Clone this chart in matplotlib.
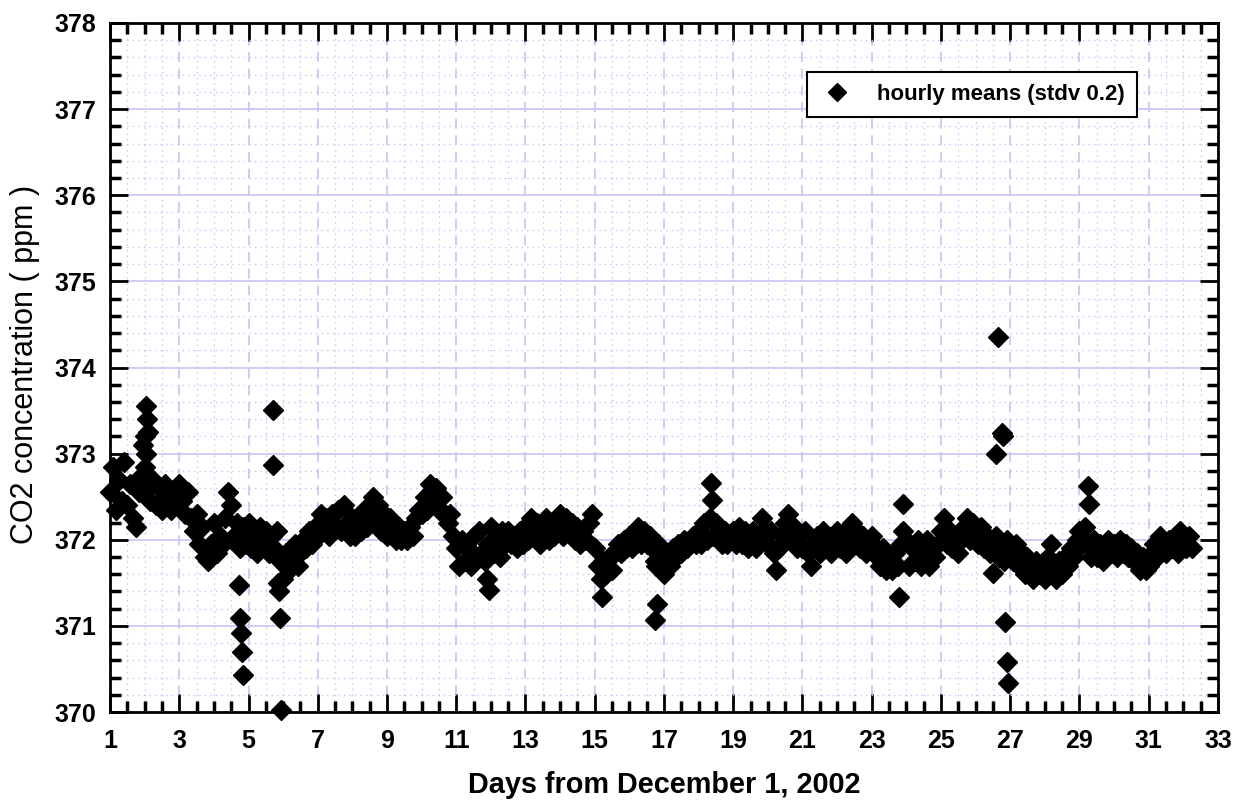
import numpy as np
import matplotlib
matplotlib.use("Agg")
import matplotlib.pyplot as plt
from matplotlib.ticker import MultipleLocator, FixedLocator

plt.rcParams['font.family'] = ['Liberation Sans', 'DejaVu Sans']

# hourly means, one value every 2 hours (12 per day) from day 1
co2_band = [
    # day 1
    372.55, 372.85, 372.35, 372.70, 372.45, 372.90, 372.40, 372.65, 372.25, 372.15, 372.55, 372.75,
    # day 2
    372.85, 372.60, 372.45, 372.70, 372.40, 372.60, 372.35, 372.65, 372.50, 372.35, 372.55, 372.40,
    # day 3
    372.65, 372.45, 372.30, 372.55, 372.25, 372.10, 372.30, 371.95, 372.15, 371.80, 371.75, 371.95,
    # day 4
    372.20, 371.85, 372.05, 371.95, 372.25, 372.55, 372.40, 372.05, 372.20, 371.90, 372.15, 371.95,
    # day 5
    372.20, 371.90, 372.05, 371.85, 372.15, 371.95, 372.10, 371.85, 372.05, 371.90, 372.10, 371.75,
    # day 6
    371.55, 371.85, 371.65, 371.80, 371.95, 371.70, 371.85, 372.00, 371.90, 372.10, 371.95, 372.15,
    # day 7
    372.05, 372.30, 372.10, 372.25, 372.05, 372.30, 372.15, 372.35, 372.10, 372.40, 372.20, 372.05,
    # day 8
    372.25, 372.05, 372.20, 372.10, 372.35, 372.15, 372.40, 372.50, 372.25, 372.40, 372.10, 372.30,
    # day 9
    372.05, 372.25, 372.15, 372.00, 372.15, 372.00, 372.10, 372.00, 372.15, 372.05, 372.25, 372.35,
    # day 10
    372.30, 372.50, 372.35, 372.65, 372.45, 372.60, 372.35, 372.50, 372.30, 372.20, 372.30, 372.05,
    # day 11
    371.90, 371.70, 372.00, 371.75, 371.90, 371.70, 372.05, 371.80, 372.10, 371.85, 371.75, 371.95,
    # day 12
    372.15, 371.85, 372.05, 371.80, 372.10, 371.95, 372.10, 371.95, 372.05, 371.90, 372.10, 371.95,
    # day 13
    372.15, 372.00, 372.25, 372.05, 372.20, 371.95, 372.15, 372.25, 372.00, 372.15, 372.05, 372.20,
    # day 14
    372.30, 372.05, 372.25, 372.10, 372.20, 372.00, 372.15, 371.95, 372.10, 372.00, 372.20, 372.30,
    # day 15
    371.90, 371.70, 371.55, 371.75, 371.60, 371.80, 371.65, 371.85, 371.95, 371.85, 372.00, 371.90,
    # day 16
    372.05, 371.90, 372.10, 372.15, 371.95, 372.10, 371.95, 372.05, 371.90, 371.75, 371.95, 371.65,
    # day 17
    371.60, 371.85, 371.70, 371.90, 371.80, 371.95, 371.85, 372.00, 371.90, 372.00, 372.05, 371.95,
    # day 18
    372.10, 371.95, 372.20, 372.00, 372.25, 372.05, 372.20, 372.10, 371.95, 372.10, 371.95, 372.05,
    # day 19
    372.10, 371.95, 372.15, 371.95, 372.10, 371.90, 372.05, 372.10, 371.90, 372.05, 372.25, 372.10,
    # day 20
    371.95, 372.10, 371.85, 371.65, 371.90, 372.05, 372.20, 372.30, 372.00, 372.15, 371.90, 372.05,
    # day 21
    371.90, 372.10, 371.85, 371.70, 371.95, 372.05, 371.85, 372.10, 371.95, 372.05, 371.85, 371.95,
    # day 22
    372.10, 371.90, 372.05, 371.85, 372.15, 372.20, 371.95, 372.10, 371.90, 372.05, 371.85, 372.00,
    # day 23
    372.05, 371.90, 371.80, 371.70, 371.90, 371.65, 371.80, 371.65, 371.85, 371.70, 371.95, 372.10,
    # day 24
    372.00, 371.70, 371.90, 371.75, 372.00, 371.70, 371.85, 372.00, 371.70, 371.90, 371.80, 371.95,
    # day 25
    372.10, 372.25, 371.95, 372.10, 371.90, 372.05, 371.85, 372.00, 372.15, 372.25, 372.00, 372.20,
    # day 26
    372.10, 371.95, 372.15, 371.90, 372.05, 371.85, 371.95, 372.05, 371.80, 371.95, 371.75, 372.00,
    # day 27
    371.90, 371.75, 371.95, 371.70, 371.85, 371.60, 371.80, 371.65, 371.55, 371.75, 371.60, 371.70,
    # day 28
    371.55, 371.80, 371.95, 371.65, 371.55, 371.75, 371.60, 371.80, 371.70, 371.90, 371.80, 372.00,
    # day 29
    372.10, 371.95, 372.15, 371.95, 371.80, 372.00, 371.80, 371.95, 371.75, 371.90, 372.00, 371.85,
    # day 30
    371.95, 371.80, 372.00, 371.85, 371.95, 371.80, 371.90, 371.75, 371.85, 371.65, 371.80, 371.65,
    # day 31
    371.70, 371.85, 371.95, 371.80, 372.05, 371.90, 371.85, 372.00, 371.90, 372.05, 371.85, 372.10,
    # day 32
    372.00, 371.90, 372.05, 371.90,
]
band_days = 1 + np.arange(len(co2_band)) / 12

# isolated excursions away from the main band
spike_days = [1.95, 2.00, 2.05, 2.08, 2.10, 2.03,
              4.72, 4.75, 4.78, 4.80, 4.83,
              5.70, 5.72, 5.85, 5.88, 5.90, 5.93,
              11.90, 11.95, 15.20, 16.78, 16.75, 16.80,
              18.35, 18.38, 23.80, 23.90,
              26.50, 26.60, 26.64, 26.75, 26.78, 26.85, 26.90, 26.93,
              29.25, 29.28]
spike_vals = [373.10, 373.20, 373.55, 373.40, 373.25, 373.00,
              371.47, 371.09, 370.92, 370.70, 370.43,
              373.51, 372.87, 371.50, 371.40, 371.09, 370.02,
              371.55, 371.42, 371.34, 371.70, 371.07, 371.26,
              372.66, 372.46, 371.34, 372.42,
              371.61, 373.00, 374.36, 373.24, 373.20, 371.05, 370.58, 370.34,
              372.62, 372.41]

day_ticks = list(range(1, 34, 2))

fig = plt.figure(figsize=(12.42, 8.01), dpi=100)
ax = fig.add_axes([0.0886, 0.111, 0.892, 0.8603])

ax.plot(band_days, co2_band, 'D', color='black', ms=10, mec='black',
        label='hourly means (stdv 0.2)', zorder=3, clip_on=False)
ax.plot(spike_days, spike_vals, 'D', color='black', ms=10, mec='black',
        zorder=3, clip_on=False)

ax.set_xlim(1, 33)
ax.set_ylim(370, 378)
ax.xaxis.set_major_locator(FixedLocator(day_ticks))
ax.xaxis.set_minor_locator(MultipleLocator(0.5))
ax.yaxis.set_major_locator(MultipleLocator(1))
ax.yaxis.set_minor_locator(MultipleLocator(0.2))

grid_col = '#c4c4f6'
ax.yaxis.grid(True, which='major', color=grid_col, linestyle='-', linewidth=1.2)
ax.xaxis.grid(True, which='major', color=grid_col, linestyle=(0, (6, 4)), linewidth=1.2)
ax.grid(True, which='minor', color=grid_col, linestyle=(0, (1, 3)), linewidth=1.0)
ax.set_axisbelow(True)

ax.tick_params(which='both', direction='in', top=True, right=True, color='black')
ax.tick_params(which='major', length=13, width=2)
ax.tick_params(which='minor', length=8, width=2.5)
ax.tick_params(axis='x', which='major', pad=12)
ax.tick_params(axis='y', which='major', pad=10)
for lab in ax.get_xticklabels() + ax.get_yticklabels():
    lab.set_fontweight('bold')
    lab.set_fontsize(18)

for sp in ax.spines.values():
    sp.set_linewidth(2)
    sp.set_color('black')

ax.set_xlabel('Days from December 1, 2002', fontsize=20.8, fontweight='bold')
ax.set_ylabel('CO2 concentration ( ppm )', fontsize=22)
ax.xaxis.set_label_coords(0.5, -0.085)
ax.yaxis.set_label_coords(-0.063, 0.505)

leg = ax.legend(loc='upper right', bbox_to_anchor=(0.927, 0.929), borderaxespad=0,
                fancybox=False, framealpha=1, edgecolor='black',
                prop={'weight': 'bold', 'size': 16}, handletextpad=1.0,
                borderpad=0.55, handlelength=1.6, markerscale=0.95)
leg.get_frame().set_linewidth(1.5)

fig.savefig('out.png', dpi=100)
